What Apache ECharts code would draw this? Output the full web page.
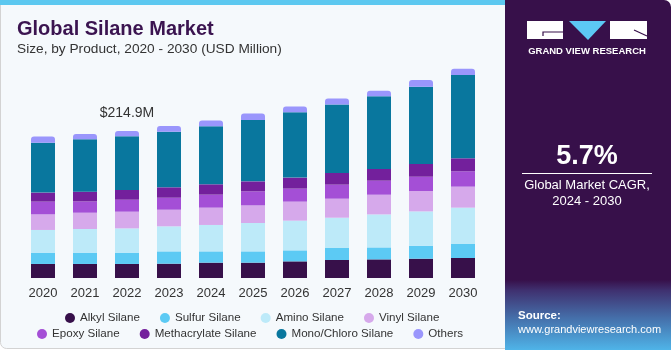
<!DOCTYPE html>
<html>
<head>
<meta charset="utf-8">
<script src="https://cdn.jsdelivr.net/npm/echarts@6/dist/echarts.min.js"></script>
<style>
  html, body { margin: 0; padding: 0; background: #fff; }
  #chart { width: 671px; height: 350px; }
</style>
</head>
<body>
<div id="chart"></div>
<script>
// values in USD million
const years = ['2020', '2021', '2022', '2023', '2024', '2025', '2026', '2027', '2028', '2029', '2030']
const alkyl = [20.5, 20.5, 20.5, 20.9, 22.4, 22.4, 24.3, 26.3, 27.2, 28.2, 29.2]
const sulfur = [16.5, 16.5, 16.5, 18.0, 16.5, 16.5, 16.1, 17.5, 17.5, 19.0, 20.5]
const amino = [33.2, 34.6, 35.5, 36.6, 38.6, 41.5, 43.4, 44.3, 48.2, 50.1, 53.1]
const vinyl = [22.8, 23.8, 24.4, 24.3, 25.3, 25.7, 27.8, 27.8, 28.8, 29.8, 30.7]
const epoxy = [18.6, 16.5, 17.5, 17.5, 19.0, 20.5, 19.0, 20.5, 20.5, 20.9, 22.4]
const methacrylate = [13.2, 14.2, 14.2, 15.2, 15.1, 14.6, 16.1, 17.1, 17.1, 18.6, 19.0]
const monoChloro = [72.7, 76.5, 78.4, 81.3, 84.8, 89.8, 95.5, 99.9, 106.1, 113.0, 121.9]
const others = [9.2, 7.9, 7.9, 8.3, 8.3, 9.2, 8.3, 8.8, 8.3, 9.8, 8.8]

const highlightIndex = 2
const highlightLabel = '$214.9M'
const cagr = '5.7%'

const seriesDefs = [
  { name: 'Alkyl Silane', data: alkyl, color: '#37104a' },
  { name: 'Sulfur Silane', data: sulfur, color: '#5ccaf4' },
  { name: 'Amino Silane', data: amino, color: '#bdeaf9' },
  { name: 'Vinyl Silane', data: vinyl, color: '#d6a9eb' },
  { name: 'Epoxy Silane', data: epoxy, color: '#a44fd6' },
  { name: 'Methacrylate Silane', data: methacrylate, color: '#73209c' },
  { name: 'Mono/Chloro Silane', data: monoChloro, color: '#09779e' },
  { name: 'Others', data: others, color: '#9a96fc' }
]

const chart = echarts.init(document.getElementById('chart'))

const series = seriesDefs.map((s, i) => {
  const isTop = i === seriesDefs.length - 1
  return {
    name: s.name,
    type: 'bar',
    stack: 'total',
    barWidth: 24,
    itemStyle: {
      color: s.color,
      borderRadius: isTop ? [3, 3, 0, 0] : 0
    },
    emphasis: { disabled: true },
    data: s.data.map((v, j) => {
      if (isTop && j === highlightIndex) {
        return {
          value: v,
          label: {
            show: true,
            position: 'top',
            distance: 11,
            formatter: highlightLabel,
            color: '#333',
            fontSize: 14,
            fontFamily: 'Liberation Sans'
          }
        }
      }
      return v
    })
  }
})

const legendText = { color: '#333', fontSize: 11.6, fontFamily: 'Liberation Sans' }

chart.setOption({
  animation: false,
  grid: { left: 22, width: 462, top: 59, bottom: 72 },
  xAxis: {
    type: 'category',
    data: years,
    axisLine: { show: false },
    axisTick: { show: false },
    axisLabel: { color: '#333', fontSize: 13, fontFamily: 'Liberation Sans', margin: 9 }
  },
  yAxis: {
    type: 'value',
    min: 0,
    max: 320,
    show: false,
    splitLine: { show: false }
  },
  legend: [
    {
      data: seriesDefs.slice(0, 4).map(s => s.name),
      left: 60, top: 307,
      icon: 'circle', itemWidth: 10, itemHeight: 10, itemGap: 20,
      textStyle: legendText, selectedMode: false
    },
    {
      data: seriesDefs.slice(4).map(s => s.name),
      left: 32, top: 323,
      icon: 'circle', itemWidth: 10, itemHeight: 10, itemGap: 20,
      textStyle: legendText, selectedMode: false
    }
  ],
  graphic: [
    // left panel
    { type: 'rect', z: -10, shape: { x: 0.5, y: 0.5, width: 505, height: 348, r: [0, 0, 0, 6] },
      style: { fill: '#f5f9fc', stroke: '#d3d3d3', lineWidth: 1 } },
    { type: 'rect', z: -9, shape: { x: 0, y: 0, width: 506, height: 5 }, style: { fill: '#5cc8f0' } },
    // right panel
    { type: 'rect', z: -9, shape: { x: 505, y: 0, width: 166, height: 350, r: [0, 7, 0, 0] },
      style: { fill: '#37104a' } },
    { type: 'rect', z: -8, shape: { x: 505, y: 280, width: 166, height: 70 },
      style: {
        fill: new echarts.graphic.LinearGradient(0, 0, 0, 1, [
          { offset: 0, color: '#37104a' },
          { offset: 0.15, color: '#3f3170' },
          { offset: 0.55, color: '#4570ab' },
          { offset: 1, color: '#4fb4e8' }
        ])
      } },
    // logo
    { type: 'rect', z: 5, shape: { x: 527, y: 21, width: 36, height: 18 }, style: { fill: '#fff' } },
    { type: 'polyline', z: 6, shape: { points: [[563, 32], [543, 32], [543, 36]] },
      style: { stroke: '#37104a', lineWidth: 1.2, fill: null } },
    { type: 'polygon', z: 5, shape: { points: [[569, 21], [606, 21], [588, 40]] }, style: { fill: '#5cc8f4' } },
    { type: 'rect', z: 5, shape: { x: 610, y: 21, width: 37, height: 18 }, style: { fill: '#fff' } },
    { type: 'line', z: 6, shape: { x1: 634, y1: 30, x2: 647, y2: 36 }, style: { stroke: '#37104a', lineWidth: 1.2 } },
    { type: 'text', z: 5, x: 587, y: 51,
      style: { text: 'GRAND VIEW RESEARCH', fill: '#fff', font: 'bold 9.5px "Liberation Sans"', align: 'center', verticalAlign: 'middle' } },
    // CAGR
    { type: 'text', z: 5, x: 587, y: 157,
      style: { text: cagr, fill: '#fff', font: 'bold 27px "Liberation Sans"', align: 'center', verticalAlign: 'middle' } },
    { type: 'line', z: 5, shape: { x1: 522, y1: 173.5, x2: 652, y2: 173.5 }, style: { stroke: '#fff', lineWidth: 1 } },
    { type: 'text', z: 5, x: 587, y: 185,
      style: { text: 'Global Market CAGR,', fill: '#fff', font: '13px "Liberation Sans"', align: 'center', verticalAlign: 'middle' } },
    { type: 'text', z: 5, x: 587, y: 201,
      style: { text: '2024 - 2030', fill: '#fff', font: '13px "Liberation Sans"', align: 'center', verticalAlign: 'middle' } },
    // source
    { type: 'text', z: 5, x: 518, y: 316,
      style: { text: 'Source:', fill: '#fff', font: 'bold 11.5px "Liberation Sans"', verticalAlign: 'middle' } },
    { type: 'text', z: 5, x: 518, y: 330,
      style: { text: 'www.grandviewresearch.com', fill: '#fff', font: '11px "Liberation Sans"', verticalAlign: 'middle' } },
    // titles
    { type: 'text', z: 5, x: 17, y: 29,
      style: { text: 'Global Silane Market', fill: '#3b1450', font: 'bold 20px "Liberation Sans"', verticalAlign: 'middle' } },
    { type: 'text', z: 5, x: 17, y: 49,
      style: { text: 'Size, by Product, 2020 - 2030 (USD Million)', fill: '#333', font: '13.7px "Liberation Sans"', verticalAlign: 'middle' } }
  ],
  series
})

window.addEventListener('resize', () => chart.resize())
</script>
</body>
</html>
